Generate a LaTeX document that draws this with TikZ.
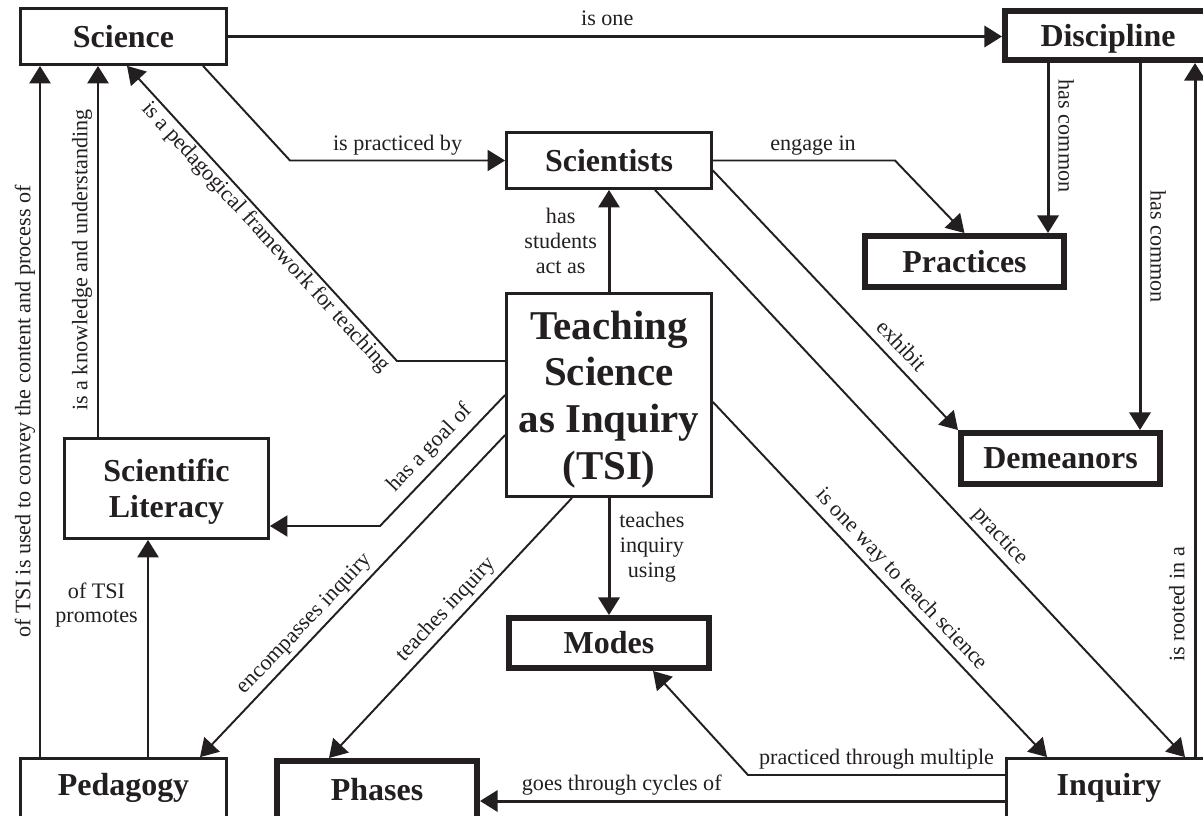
\documentclass[tikz,border=0pt]{standalone}
\usepackage{fontspec}
\setmainfont{Liberation Serif}
\usetikzlibrary{arrows.meta}
\newlength{\pxu}\setlength{\pxu}{0.02cm}
\definecolor{ink}{HTML}{231F20}

\begin{document}
\begin{tikzpicture}[x=0.02cm,y=-0.02cm,
  concept/.style={draw=ink, fill=white, text=ink, line width=1.6pt, inner sep=0pt,
    font=\fontsize{18.2}{20.4}\selectfont\bfseries, align=center},
  keybox/.style={concept, line width=3.4pt},
  lab/.style={text=ink, inner sep=2pt, font=\fontsize{12.6}{14.2}\selectfont},
  lab1/.style={lab, text height=0.72em, text depth=0.22em},
  link/.style={draw=ink, line width=1.1pt, -{Triangle[length=10pt,width=12pt]}},
  heavy/.style={link, line width=1.7pt}]

\fill[white] (0,0) rectangle (1203,815);
\useasboundingbox (0,0) rectangle (1203,815);

% concepts
\node[concept, minimum width=206\pxu, minimum height=56\pxu] (sci) at (123.5,36.5) {Science};
\node[keybox, minimum width=206\pxu, minimum height=49\pxu, text depth=0pt] (disc) at (1108,35.5) {Discipline};
\node[concept, minimum width=205\pxu, minimum height=56\pxu] (sct) at (609,160.5) {Scientists};
\node[keybox, minimum width=199\pxu, minimum height=51\pxu] (prac) at (964.5,261.5) {Practices};
\node[concept, minimum width=205\pxu, minimum height=203\pxu, text depth=0pt,
      font=\fontsize{23.3}{26.6}\selectfont\bfseries] (tsi) at (609,395)
      {Teaching\\Science\\as Inquiry\\(TSI)};
\node[concept, minimum width=204\pxu, minimum height=100\pxu, text depth=0pt,
      font=\fontsize{18.2}{20.6}\selectfont\bfseries] (sl) at (166.5,488.5)
      {Scientific\\Literacy};
\node[keybox, minimum width=199\pxu, minimum height=51\pxu] (dem) at (1060.5,458.5) {Demeanors};
\node[keybox, minimum width=200\pxu, minimum height=50\pxu] (mod) at (609,643) {Modes};
\node[concept, minimum width=206\pxu, minimum height=59\pxu] (ped) at (123.5,788) {Pedagogy};
\node[keybox, minimum width=200\pxu, minimum height=58\pxu] (phs) at (377,790) {Phases};
\node[concept, minimum width=205\pxu, minimum height=59\pxu] (inq) at (1109,788) {Inquiry};

% attachment points on the box edges
\coordinate (dP) at ([xshift=-60\pxu]disc.south);
\coordinate (dD) at ([xshift=32\pxu]disc.south);
\coordinate (iD) at ([xshift=86\pxu]inq.north);
\coordinate (iM) at ([yshift=13\pxu]inq.west);
\coordinate (iP) at ([yshift=-13\pxu]inq.west);
\coordinate (pS) at ([xshift=-83.5\pxu]ped.north);
\coordinate (pL) at ([xshift=24.5\pxu]ped.north);
\coordinate (lS) at ([xshift=-68.5\pxu]sl.north);
\coordinate (gB) at (380,526);

% links
\draw[heavy] (sci.east) -- node[lab1, above=1pt, pos=0.49]{is one} (sci.east -| disc.west);
\draw[link] ([xshift=79.5\pxu]sci.south) -- (290,160.5)
  -- node[lab1, above=1pt]{is practiced by} (sct.west);
\draw[heavy] (tsi.north) -- node[lab, left=4pt, align=center]{has\\students\\act as} (sct.south);
\draw[link] (sct.east) -- node[lab1, above=1pt, pos=0.55]{engage in} (895,160.5) -- (prac.north);
\draw[heavy] (dP) -- node[lab1, sloped, above=1pt, pos=0.43]{has common} (dP |- prac.north);
\draw[heavy] (dD) -- node[lab1, sloped, above=1pt]{has common} (dD |- dem.north);
\draw[heavy] (iD) -- node[lab1, sloped, above=1pt, pos=0.22]{is rooted in a} (iD |- disc.south);
\draw[link] ([yshift=-10\pxu]sct.east) -- node[lab1, sloped, above=1pt, pos=0.72]{exhibit} (dem.north west);
\draw[link] ([xshift=46\pxu]sct.south) -- node[lab1, sloped, above=1pt, pos=0.63]{practice}
  ([xshift=76\pxu]inq.north);
\draw[link] ([yshift=-7\pxu]tsi.east) -- node[lab1, sloped, above=1pt, pos=0.53]{is one way to teach science}
  ([xshift=-62\pxu]inq.north);
\draw[link] ([yshift=34\pxu]tsi.west) -- (397,361)
  -- node[lab1, sloped, below=1pt, pos=0.45]{is a pedagogical framework for teaching}
  ([xshift=3.5\pxu]sci.south);
\draw[link] (tsi.west) -- node[lab1, sloped, above=2pt, pos=0.50]{has a goal of} (gB) -- (gB -| sl.east);
\draw[link] ([yshift=-40\pxu]tsi.west) -- node[lab1, sloped, above=1pt, pos=0.62]{encompasses inquiry}
  ([xshift=76.5\pxu]ped.north);
\draw[link] ([xshift=-37\pxu]tsi.south) -- node[lab1, sloped, above=1pt, pos=0.47]{teaches inquiry}
  ([xshift=-48\pxu]phs.north);
\draw[heavy] (tsi.south) -- node[lab, right=3pt, align=center, pos=0.42]{teaches\\inquiry\\using} (mod.north);
\draw[link] (iM) -- node[lab1, above=1pt]{practiced through multiple} (748,775)
  -- ([xshift=44\pxu]mod.south);
\draw[heavy] (iP) -- node[lab1, above=1pt, pos=0.73]{goes through cycles of} (iP -| phs.east);
\draw[heavy] (pL) -- node[lab, left=3pt, align=center, pos=0.70]{of TSI\\promotes} (pL |- sl.south);
\draw[heavy] (pS) -- node[lab1, sloped, above=0.5pt]{of TSI is used to convey the content and process of}
  (pS |- sci.south);
\draw[heavy] (lS) -- node[lab1, sloped, above=1pt, pos=0.477]{is a knowledge and understanding}
  (lS |- sci.south);
\end{tikzpicture}
\end{document}
